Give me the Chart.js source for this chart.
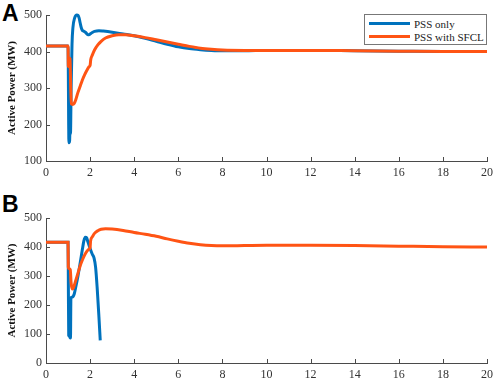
<!DOCTYPE html>
<html>
<head>
<meta charset="utf-8">
<script src="https://cdn.jsdelivr.net/npm/chart.js@4.4.0/dist/chart.umd.min.js"></script>
<style>
  html, body { margin:0; padding:0; background:#fff; }
  body { width:498px; height:380px; position:relative; overflow:hidden; }
  canvas { position:absolute; left:0; }
  .panel { position:absolute; font-family:"Liberation Sans", Arial, sans-serif; font-weight:bold; font-size:23px; color:#000; line-height:1; }
  #legend { position:absolute; left:364px; top:14px; width:121px; height:29px; border:1px solid #777; background:#fff;
            font-family:"Liberation Serif", "Times New Roman", serif; font-size:11px; color:#222; }
  .item { position:absolute; left:4px; height:13px; display:flex; align-items:center; }
  .swatch { display:inline-block; width:41px; height:3px; margin-right:4px; }
</style>
</head>
<body>
<div class="panel" style="left:2px;top:2px;">A</div>
<div class="panel" style="left:2px;top:193px;">B</div>
<canvas id="cA" width="498" height="190" style="top:0"></canvas>
<canvas id="cB" width="498" height="200" style="top:190px"></canvas>
<div id="legend">
  <div class="item" style="top:2px;"><span class="swatch" style="background:#0072BD"></span>PSS only</div>
  <div class="item" style="top:15px;"><span class="swatch" style="background:#FF5414"></span>PSS with SFCL</div>
</div>
<script>
// ---------------- data ----------------
const xTicks = [0, 2, 4, 6, 8, 10, 12, 14, 16, 18, 20];
const yTicksA = [100, 200, 300, 400, 500];
const yTicksB = [0, 100, 200, 300, 400, 500];
const seriesNames = ["PSS only", "PSS with SFCL"];

// Panel A - PSS only
const timeA_pss  = [0, 1.0, 1.01, 1.04, 1.07, 1.09, 1.11, 1.14, 1.18, 1.22, 1.3, 1.4, 1.45, 1.5, 1.55, 1.6, 1.65, 1.7, 1.8, 1.9, 1.95, 2.0, 2.1, 2.2, 2.4, 2.6, 3.0, 3.5, 4.0, 4.5, 5.0, 5.5, 6.0, 6.5, 7.0, 7.5, 8.0, 9, 10, 12, 14, 16, 18, 20];
const powerA_pss = [415, 415, 360, 150, 155, 190, 175, 300, 420, 465, 492, 500, 499, 492, 478, 465, 458, 456, 452, 446, 446, 448, 452, 455, 457, 456, 453, 448, 443, 436, 428, 420, 413, 408, 405, 403, 402, 402, 403, 403, 402, 401, 400, 400];
// Panel A - PSS with SFCL
const timeA_sfcl  = [0, 1.0, 1.01, 1.04, 1.05, 1.09, 1.12, 1.15, 1.2, 1.28, 1.35, 1.45, 1.55, 1.65, 1.75, 1.85, 1.95, 2.0, 2.03, 2.1, 2.2, 2.35, 2.5, 2.7, 3.0, 3.3, 3.6, 4.0, 4.5, 5.0, 5.5, 6.0, 6.5, 7.0, 7.5, 8.0, 9, 10, 12, 14, 16, 18, 20];
const powerA_sfcl = [415, 415, 360, 358, 382, 380, 300, 256, 255, 258, 268, 288, 305, 322, 336, 348, 358, 362, 378, 390, 404, 418, 428, 437, 443, 446, 446, 443, 438, 432, 426, 420, 414, 409, 406, 404, 403, 403, 403, 402, 401, 400, 400];

// Panel B - PSS only
const timeB_pss  = [0, 1.0, 1.01, 1.03, 1.06, 1.09, 1.11, 1.13, 1.2, 1.28, 1.35, 1.45, 1.55, 1.65, 1.72, 1.78, 1.84, 1.9, 2.0, 2.1, 2.18, 2.25, 2.32, 2.4, 2.46];
const powerB_pss = [416, 416, 325, 95, 92, 88, 86, 225, 228, 238, 262, 300, 345, 392, 422, 434, 432, 418, 395, 375, 362, 330, 260, 160, 78];
// Panel B - PSS with SFCL
const timeB_sfcl  = [0, 1.0, 1.01, 1.05, 1.1, 1.14, 1.2, 1.25, 1.35, 1.45, 1.55, 1.65, 1.75, 1.85, 1.95, 2.0, 2.02, 2.1, 2.2, 2.35, 2.5, 2.7, 3.0, 3.5, 4.0, 4.5, 5.0, 5.5, 6.0, 6.5, 7.0, 7.5, 8.0, 9, 10, 12, 14, 16, 18, 20];
const powerB_sfcl = [416, 416, 330, 325, 322, 275, 255, 260, 285, 310, 335, 355, 372, 385, 393, 397, 420, 435, 447, 456, 461, 463, 462, 457, 450, 444, 437, 428, 420, 413, 408, 405, 404, 405, 406, 406, 405, 403, 401, 400];

// ---------------- helpers ----------------
const BLUE = '#0072BD', ORANGE = '#FF5414', AXIS = '#4a4a4a';
const pts = (xs, ys) => xs.map((x, i) => ({x: x, y: ys[i]}));

const inwardTicks = {
  id: 'inwardTicks',
  afterDatasetsDraw(chart, args, opts) {
    const ctx = chart.ctx, xs = chart.scales.x, ys = chart.scales.y, a = chart.chartArea;
    ctx.save();
    ctx.strokeStyle = AXIS; ctx.lineWidth = 1;
    ctx.beginPath();
    opts.xt.forEach(v => { const p = Math.round(xs.getPixelForValue(v)) + 0.5; ctx.moveTo(p, a.bottom); ctx.lineTo(p, a.bottom - 4); });
    opts.yt.forEach(v => { const p = Math.round(ys.getPixelForValue(v)) + 0.5; ctx.moveTo(a.left, p); ctx.lineTo(a.left + 4, p); });
    ctx.stroke();
    ctx.restore();
  }
};

function makeChart(id, dsets, yMin, yMax, yTicks, padTop, xHeight) {
  const tickFont = {family: '"Liberation Serif", "Times New Roman", serif', size: 12};
  return new Chart(document.getElementById(id), {
    type: 'line',
    data: { datasets: dsets },
    options: {
      responsive: false, animation: false, devicePixelRatio: 1,
      layout: { padding: { top: padTop, right: 8, left: 0, bottom: 0 } },
      plugins: { legend: { display: false }, tooltip: { enabled: false }, inwardTicks: { xt: xTicks, yt: yTicks } },
      elements: { point: { radius: 0 }, line: { borderWidth: 3, tension: 0.3, cubicInterpolationMode: 'monotone' } },
      scales: {
        x: {
          type: 'linear', min: 0, max: 20,
          afterBuildTicks: s => { s.ticks = xTicks.map(v => ({value: v})); },
          grid: { display: false, drawTicks: false }, border: { display: true, color: AXIS, width: 1 },
          ticks: { font: tickFont, color: '#333', padding: 5, maxRotation: 0, autoSkip: false },
          afterFit: s => { s.height = xHeight; }
        },
        y: {
          type: 'linear', min: yMin, max: yMax,
          afterBuildTicks: s => { s.ticks = yTicks.map(v => ({value: v})); },
          grid: { display: false, drawTicks: false }, border: { display: true, color: AXIS, width: 1 },
          ticks: { font: tickFont, color: '#333', padding: 4 },
          title: { display: true, text: 'Active Power (MW)', color: '#111',
                   font: { family: '"Liberation Serif", "Times New Roman", serif', size: 11, weight: 'bold' },
                   padding: { top: 6, bottom: 0 } },
          afterFit: s => { s.width = 46; }
        }
      }
    },
    plugins: [inwardTicks]
  });
}

makeChart('cA', [
  { label: seriesNames[0], data: pts(timeA_pss, powerA_pss), borderColor: BLUE, order: 1, fill: false, clip: 6 },
  { label: seriesNames[1], data: pts(timeA_sfcl, powerA_sfcl), borderColor: ORANGE, order: 0, fill: false, clip: 6 }
], 100, 500, yTicksA, 15, 29);

makeChart('cB', [
  { label: seriesNames[0], data: pts(timeB_pss, powerB_pss), borderColor: BLUE, order: 1, fill: false, clip: 6 },
  { label: seriesNames[1], data: pts(timeB_sfcl, powerB_sfcl), borderColor: ORANGE, order: 0, fill: false, clip: 6 }
], 0, 500, yTicksB, 28, 27);
</script>
</body>
</html>
